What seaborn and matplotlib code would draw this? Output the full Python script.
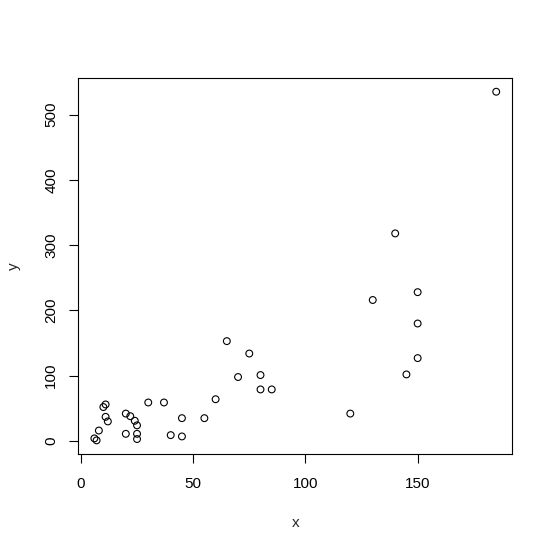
import matplotlib
matplotlib.use("Agg")
import matplotlib.pyplot as plt
import seaborn as sns
import pandas as pd

x_vals = [6, 7, 8, 10, 11, 11, 12, 20, 20, 22, 24, 25, 25, 25, 30, 37, 40, 45, 45, 55,
          60, 65, 70, 75, 80, 80, 85, 120, 130, 140, 145, 150, 150, 150, 185]
y_vals = [4, 1, 16, 52, 56, 37, 30, 42, 11, 38, 31, 24, 11, 3, 59, 59, 9, 35, 7, 35,
          64, 153, 98, 134, 101, 79, 79, 42, 216, 318, 102, 228, 180, 127, 535]
x_ticks = [0, 50, 100, 150]
y_ticks = [0, 100, 200, 300, 400, 500]

df = pd.DataFrame({"x": x_vals, "y": y_vals})

sns.set_style("white")
plt.rcParams["font.family"] = ["Liberation Sans", "DejaVu Sans"]

W, H = 553, 552
fig = plt.figure(figsize=(W / 100, H / 100), dpi=100)
left, right, top, bottom = 78.3, 512.3, 77.8, 454.3
ax = fig.add_axes([left / W, (H - bottom) / H, (right - left) / W, (bottom - top) / H])

sns.scatterplot(data=df, x="x", y="y", ax=ax, marker="o", s=24,
                facecolor="none", edgecolor="black", linewidth=0.8)

xmin, xmax = min(x_vals), max(x_vals)
ymin, ymax = min(y_vals), max(y_vals)
ax.set_xlim(xmin - 0.04 * (xmax - xmin), xmax + 0.04 * (xmax - xmin))
ax.set_ylim(ymin - 0.04 * (ymax - ymin), ymax + 0.04 * (ymax - ymin))
ax.set_xticks(x_ticks)
ax.set_yticks(y_ticks)
ax.set_xticklabels([str(t) for t in x_ticks])
ax.set_yticklabels([str(t) for t in y_ticks], rotation=90, va="center")

for s in ax.spines.values():
    s.set_visible(True)
    s.set_color("black")
    s.set_linewidth(0.8)

ax.tick_params(axis="both", direction="out", length=6.5, width=0.8, color="black",
               labelsize=11, labelcolor="black", bottom=True, left=True)
ax.tick_params(axis="x", pad=10)
ax.tick_params(axis="y", pad=8)
ax.set_xlabel("x", fontsize=11, labelpad=18)
ax.set_ylabel("y", fontsize=11, labelpad=17)
ax.grid(False)

fig.savefig("out.png", dpi=100)
